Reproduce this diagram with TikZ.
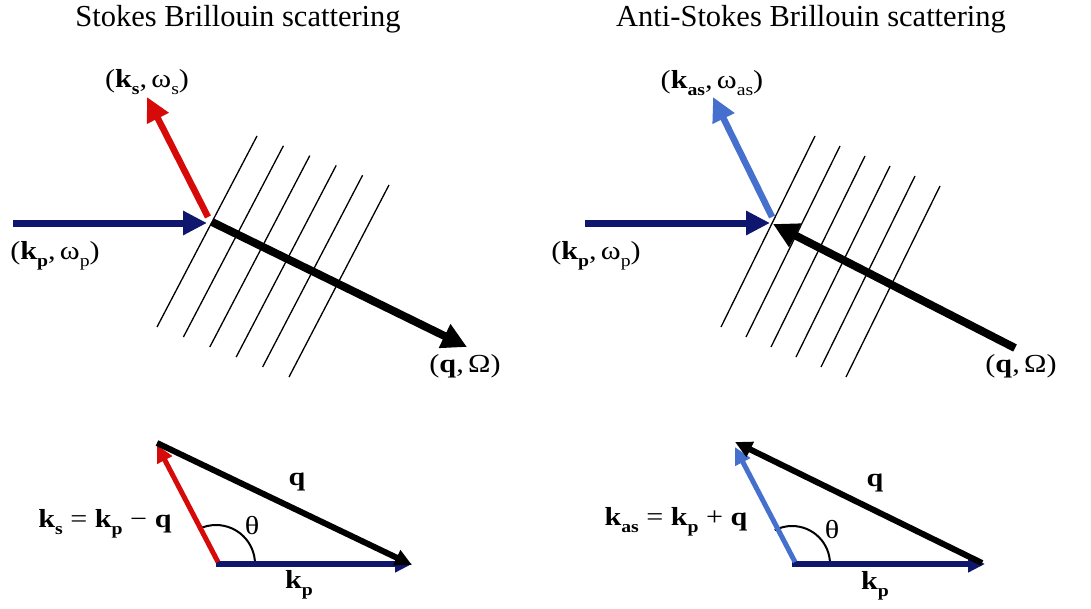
\documentclass[tikz,border=0pt]{standalone}
\usepackage{fontspec}
\setmainfont{Liberation Serif}
\newfontfamily\lblfont{Liberation Serif}[FakeStretch=1.16]
\usetikzlibrary{arrows.meta}
\definecolor{navy}{RGB}{15,22,110}
\definecolor{sred}{RGB}{215,10,10}
\definecolor{lblue}{RGB}{70,112,205}
\newcommand\lsub[1]{\raisebox{-0.28em}{\fontsize{17}{17}\selectfont #1}}
\begin{document}
\begin{tikzpicture}[x=1pt,y=-1pt,
  lbl/.style={inner sep=0pt, font=\lblfont\fontsize{26}{28}\selectfont},
  ttl/.style={inner sep=0pt, anchor=base, font=\fontsize{30.5}{32}\selectfont},
  bigarr/.style={line width=7pt, -{Triangle[length=24pt,width=23pt]}},
  smallarr/.style={line width=5.5pt, -{Triangle[length=17pt,width=16pt]}},
  wave/.style={line width=1.3pt},
  anglearc/.style={line width=2pt}]
\useasboundingbox (0,0) rectangle (1091,608);

% titles
\node[ttl] (t1) at (238,26) {Stokes Brillouin scattering};
\node[ttl] (t2) at (811,26) {Anti-Stokes Brillouin scattering};

% ---------- left top ----------
\foreach \i in {0,...,5}
  \draw[wave] (257+26.4*\i,136+9.8*\i) -- (157+26.4*\i,327+10*\i);
\coordinate (lpS) at (13,223);
\coordinate (lpE) at (207,223);
\coordinate (lsS) at (208,217);
\coordinate (lsE) at (147,97);
\coordinate (lqS) at (212,222);
\coordinate (lqE) at (467,347);
\draw[bigarr, navy] (lpS) -- (lpE);
\draw[bigarr, sred, line width=6.5pt] (lsS) -- (lsE);
\draw[bigarr, black, line width=8pt, -{Triangle[length=25pt,width=25pt]}] (lqS) -- (lqE);
\node[lbl] (lks) at (147,82) {(\textbf{k\lsub{s}},\,ω\lsub{s})};
\node[lbl] (lkp) at (55,256) {(\textbf{k\lsub{p}},\,ω\lsub{p})};
\node[lbl] (lq) at (465,366) {(\textbf{q},\,Ω)};

% ---------- right top ----------
\foreach \i in {0,...,5}
  \draw[wave] (815+25*\i,136+10*\i) -- (721+25*\i,327+10*\i);
\coordinate (rpS) at (585,223);
\coordinate (rpE) at (770,223);
\coordinate (rsS) at (772,217);
\coordinate (rsE) at (713,97);
\coordinate (rqS) at (1015,348);
\coordinate (rqE) at (773,224);
\draw[bigarr, navy] (rpS) -- (rpE);
\draw[bigarr, lblue, line width=6.5pt] (rsS) -- (rsE);
\draw[bigarr, black, line width=8pt, -{Triangle[length=25pt,width=25pt]}] (rqS) -- (rqE);
\node[lbl] (rks) at (712,83) {(\textbf{k\lsub{as}},\,ω\lsub{as})};
\node[lbl] (rkp) at (596,256) {(\textbf{k\lsub{p}},\,ω\lsub{p})};
\node[lbl] (rq) at (1021,366) {(\textbf{q},\,Ω)};

% ---------- left bottom ----------
\coordinate (bO) at (216,564);
\coordinate (bPE) at (412,564);
\coordinate (bSS) at (218,562);
\coordinate (bSE) at (157,445);
\coordinate (bQS) at (157,443);
\coordinate (bQE) at (412,565);
\draw[anglearc] (255,564) arc[start angle=0,end angle=117,radius=39pt];
\draw[smallarr, navy] (bO) -- (bPE);
\draw[smallarr, sred, line width=5pt] (bSS) -- (bSE);
\draw[smallarr, black, line width=6pt] (bQS) -- (bQE);
\node[lbl] (bth) at (252,526) {θ};
\node[lbl] (bq) at (297,482) {\textbf{q}};
\node[lbl] (bkp) at (299,585) {\textbf{k\lsub{p}}};
\node[lbl] (bks) at (105,524) {\textbf{k\lsub{s}} = \textbf{k\lsub{p}} − \textbf{q}};

% ---------- right bottom ----------
\coordinate (cO) at (792,564);
\coordinate (cPE) at (985,564);
\coordinate (cSS) at (795,562);
\coordinate (cSE) at (735,447);
\coordinate (cQS) at (982,563);
\coordinate (cQE) at (735,442);
\draw[anglearc] (830,564) arc[start angle=0,end angle=117,radius=38pt];
\draw[smallarr, navy] (cO) -- (cPE);
\draw[smallarr, lblue, line width=5pt] (cSS) -- (cSE);
\draw[smallarr, black, line width=6pt] (cQS) -- (cQE);
\node[lbl] (cth) at (832,530) {θ};
\node[lbl] (cq) at (875,483) {\textbf{q}};
\node[lbl] (ckp) at (875,586) {\textbf{k\lsub{p}}};
\node[lbl] (cks) at (676,522) {\textbf{k\lsub{as}} = \textbf{k\lsub{p}} + \textbf{q}};
\end{tikzpicture}
\end{document}
